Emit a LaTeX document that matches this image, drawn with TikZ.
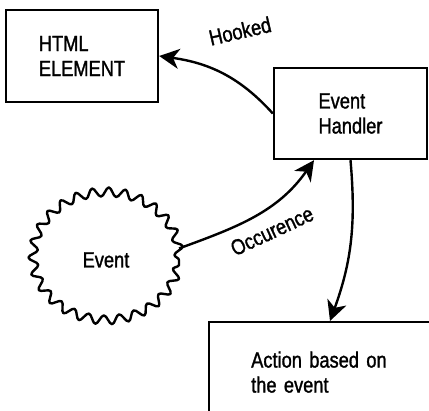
\documentclass[tikz,border=0pt]{standalone}
\usepackage{fontspec}
\setmainfont{Liberation Sans}[FakeStretch=0.83, FakeBold=1.3]
\usetikzlibrary{arrows.meta, shapes.geometric, decorations.pathmorphing, positioning}

\begin{document}
\begin{tikzpicture}[
      x=1pt, y=1pt,
      box/.style  = {draw, line width=2.4pt, align=left,
                     font=\fontsize{22}{25}\selectfont},
      blob/.style = {ellipse, draw, line width=2.4pt, line join=round,
                     minimum width=146pt, minimum height=128pt, decorate,
                     decoration={snake, segment length=16pt, amplitude=4.5pt},
                     font=\fontsize{22}{25}\selectfont},
      arr/.style  = {-{Stealth[length=20pt, width=20pt, inset=6pt]},
                     line width=2.4pt},
      lbl/.style  = {font=\fontsize{22}{25}\selectfont},
    ]

    \useasboundingbox (0,0) rectangle (429,411);
    \clip (0,0) rectangle (429,411);

    \node[box, minimum width=152pt, minimum height=92pt] (html) at (82,355)
      {HTML\\ELEMENT};
    \node[box, minimum width=153pt, minimum height=91pt] (handler) at (350.5,297.5)
      {Event\\Handler};
    \node[blob] (event) at (106,151) {Event};
    \node[box, anchor=north west, minimum height=100pt, text width=180pt,
          inner xsep=42pt] (action) at (208,90)
      {Action based on\\the event};

    \draw[arr] (handler.west) to[out=132, in=-8] (html.east);
    \draw[arr] (event.9) to[out=20, in=-125] (handler.232);
    \draw[arr] (handler.south) to[out=-85, in=70] ([xshift=122pt]action.north west);

    % connector labels
    \node[lbl, rotate=13] (hooked) at (240,380) {Hooked};
    \node[lbl, rotate=25] (occur)  at (272,180) {Occurence};

  \end{tikzpicture}
\end{document}
